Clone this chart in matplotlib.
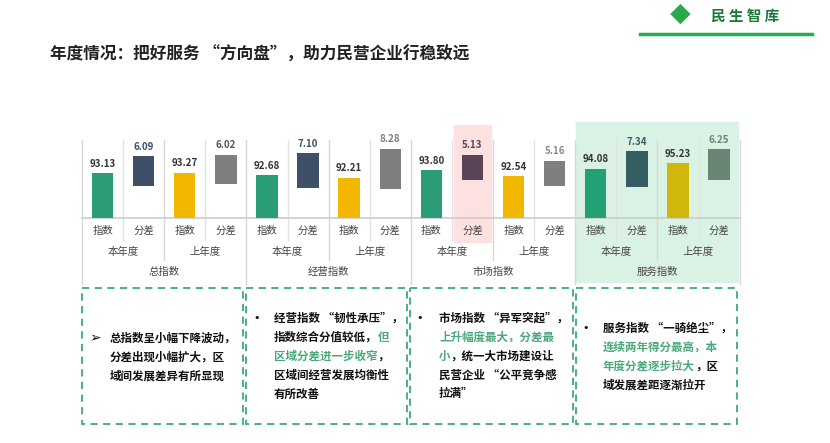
import matplotlib.pyplot as plt
import matplotlib.patches as mpatches
import numpy as np

plt.rcParams['font.family'] = ['Noto Sans CJK SC', 'DejaVu Sans']

# ---- data ----
groups = ["总指数", "经营指数", "市场指数", "服务指数"]
years = ["本年度", "上年度"]
kinds = ["指数", "分差"]
index_values = [93.13, 93.27, 92.68, 92.21, 93.80, 92.54, 94.08, 95.23]
spread_values = [6.09, 6.02, 7.10, 8.28, 5.13, 5.16, 7.34, 6.25]
spread_base = [6.5, 6.9, 6.1, 5.9, 7.8, 6.5, 6.3, 7.8]
index_colors = ["#2a9d78", "#f2b800", "#2a9d78", "#f2b800",
                "#2a9d78", "#f2b800", "#24a077", "#cfb80a"]
spread_colors = ["#3f4f68", "#7f7f7f", "#3f4f68", "#7f7f7f",
                 "#5a4558", "#7f7f7f", "#355e63", "#6b8575"]
label_colors_idx = ["#333333"] * 8
label_colors_spr = ["#3f4f68", "#555555", "#3f4f68", "#7f7f7f",
                    "#5a4558", "#8a8a8a", "#355e63", "#6b8575"]
notes = [
    ("➢", [[("总指数呈小幅下降波动，", "k")],
           [("分差出现小幅扩大，区", "k")],
           [("域间发展差异有所显现", "k")]]),
    ("•", [[("经营指数 “韧性承压”，", "k")],
           [("指数综合分值较低，", "k"), ("但", "g")],
           [("区域分差进一步收窄", "g"), ("，", "k")],
           [("区域间经营发展均衡性", "k")],
           [("有所改善", "k")]]),
    ("•", [[("市场指数 “异军突起”，", "k")],
           [("上升幅度最大，分差最", "g")],
           [("小", "g"), ("，统一大市场建设让", "k")],
           [("民营企业 “公平竞争感", "k")],
           [("拉满”", "k")]]),
    ("•", [[("服务指数 “一骑绝尘”，", "k")],
           [("连续两年得分最高，本", "g")],
           [("年度分差逐步拉大", "g"), ("，区", "k")],
           [("域发展差距逐渐拉开", "k")]]),
]

W, H = 830, 443
fig = plt.figure(figsize=(W / 100, H / 100), dpi=100)
bg = fig.add_axes([0, 0, 1, 1])
bg.set_xlim(0, W)
bg.set_ylim(H, 0)
bg.axis("off")

# header
bg.plot([640, 812], [34, 34], color="#22b14c", lw=2.5)
bg.text(680, 16, "◆", color="#2aa84a", fontsize=15, ha="center", va="center")
bg.text(745, 16, "民 生 智 库", color="#1a7a3a", fontsize=10.5, fontweight="bold",
        ha="center", va="center")
bg.text(50, 55, "年度情况：把好服务 “方向盘”，助力民营企业行稳致远", fontsize=12,
        fontweight="bold", color="#222222", va="center")

x0, cw = 82, 41.1
n = 16
x1 = x0 + n * cw
base_y = 218

# highlights
bg.add_patch(mpatches.Rectangle((x0 + 9 * cw + 2, 125), cw - 4, 117, color="#fde0e0", zorder=0))
bg.add_patch(mpatches.Rectangle((x0 + 12 * cw + 1, 122), 4 * cw - 3, 160, color="#daf2e3", zorder=0))

# grid lines / table
for i in range(n + 1):
    xx = x0 + i * cw
    if i % 4 == 0:
        bg.plot([xx, xx], [140, 284], color="#d8d8d8", lw=1)
    elif i % 2 == 0:
        bg.plot([xx, xx], [140, 260], color="#d8d8d8", lw=1)
    else:
        bg.plot([xx, xx], [140, 240], color="#e2e2e2", lw=1)
bg.plot([x0, x1], [base_y, base_y], color="#cccccc", lw=1.2)
for i in range(n):
    bg.text(x0 + (i + 0.5) * cw, 231, kinds[i % 2], fontsize=7.5, color="#444444",
            ha="center", va="center")
for j in range(8):
    bg.text(x0 + (2 * j + 1) * cw, 252, years[j % 2], fontsize=7.5, color="#444444",
            ha="center", va="center")
for k, g in enumerate(groups):
    bg.text(x0 + (4 * k + 2) * cw, 272, g, fontsize=7.5, color="#444444",
            ha="center", va="center")

# bars axes: value 84 at baseline
scale = 4.9
top_px = 110
ax = fig.add_axes([x0 / W, 1 - base_y / H, (x1 - x0) / W, (base_y - top_px) / H])
ax.set_xlim(0, n)
ax.set_ylim(84, 84 + (base_y - top_px) / scale)
ax.axis("off")
ax.patch.set_alpha(0)
ix = np.arange(8) * 2 + 0.5
sx = np.arange(8) * 2 + 1.5
ax.bar(ix, np.array(index_values) - 84, bottom=84, width=0.52, color=index_colors)
ax.bar(sx, spread_values, bottom=84 + np.array(spread_base), width=0.52, color=spread_colors)
for i in range(8):
    ax.text(ix[i], index_values[i] + 0.9, f"{index_values[i]:.2f}", ha="center",
            va="bottom", fontsize=7, fontweight="bold", color=label_colors_idx[i])
    top = 84 + spread_base[i] + spread_values[i]
    ax.text(sx[i], top + 0.9, f"{spread_values[i]:.2f}", ha="center",
            va="bottom", fontsize=7, fontweight="bold", color=label_colors_spr[i])

# note boxes
boxes = [(82, 243), (246, 407), (410, 573), (576, 737)]
bullet_x = [95, 257, 420, 586]
text_x = [110, 274, 439, 603]
line_y0 = [338, 318, 318, 328]
cols = {"k": "#111111", "g": "#4aa87a"}
fig.canvas.draw()
renderer = fig.canvas.get_renderer()
for b, (xa, xb) in enumerate(boxes):
    bg.add_patch(mpatches.Rectangle((xa, 288), xb - xa, 136, fill=False,
                                    ec="#3aaa7a", lw=1.3, ls=(0, (4, 3))))
    bullet, lines = notes[b]
    bg.text(bullet_x[b], line_y0[b], bullet, fontsize=10 if b == 0 else 8,
            ha="center", va="center", color="#111111", family=["DejaVu Sans"])
    for li, segs in enumerate(lines):
        y = line_y0[b] + li * 19
        cx = text_x[b]
        for s, c in segs:
            t = bg.text(cx, y, s, fontsize=8.3, fontweight="bold", color=cols[c],
                        va="center", ha="left")
            bb = t.get_window_extent(renderer)
            cx += bb.width
fig.savefig("out.png", dpi=100)
